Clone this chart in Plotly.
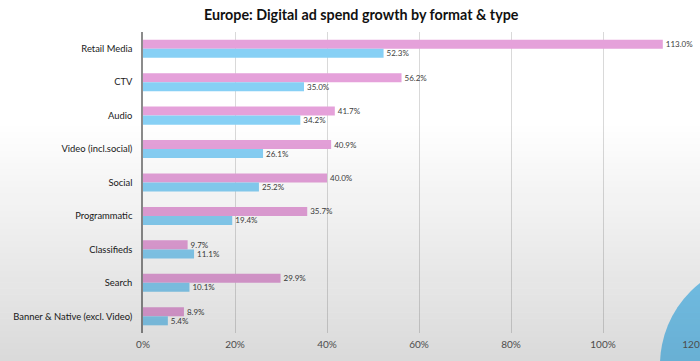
import plotly.graph_objects as go

categories = ["Retail Media", "CTV", "Audio", "Video (incl.social)", "Social",
              "Programmatic", "Classifieds", "Search", "Banner & Native (excl. Video)"]
series_pink = [113.0, 56.2, 41.7, 40.9, 40.0, 35.7, 9.7, 29.9, 8.9]
series_blue = [52.3, 35.0, 34.2, 26.1, 25.2, 19.4, 11.1, 10.1, 5.4]
x_ticks = [0, 20, 40, 60, 80, 100, 120]
x_tick_labels = ["0%", "20%", "40%", "60%", "80%", "100%", "120%"]

W, H = 700, 361
ML, MR, MT, MB = 143, 5, 32, 28
PW, PH = W - ML - MR, H - MT - MB

def px_x(p):
    return (p - ML) / PW

def px_y(p):
    return (H - MB - p) / PH

label_font = dict(family="Lato, 'Open Sans', sans-serif", size=8, color="#404040")

fig = go.Figure()
fig.add_trace(go.Bar(
    y=categories, x=series_pink, orientation="h", name="Series 1",
    marker=dict(color="#E5A1DA", line=dict(width=0)),
    texttemplate="%{x:.1f}%", textposition="outside", textfont=label_font,
    constraintext="none", cliponaxis=False,
))
fig.add_trace(go.Bar(
    y=categories, x=series_blue, orientation="h", name="Series 2",
    marker=dict(color="#87D0F5", line=dict(width=0)),
    texttemplate="%{x:.1f}%", textposition="outside", textfont=label_font,
    constraintext="none", cliponaxis=False,
))

shapes = []
# decorative blue circle bottom-right (below gridlines and tick labels)
cx, cy, r = 764, 365, 104
shapes.append(dict(
    type="circle", xref="paper", yref="paper",
    x0=px_x(cx - r), x1=px_x(cx + r), y0=px_y(cy + r), y1=px_y(cy - r),
    fillcolor="#7BCEF8", line=dict(width=0), layer="below",
))
# soft vertical background shading (darker toward bottom)
y_start, y_end = 120, H
n = 40
step = (y_end - y_start) / n
for i in range(n):
    a = 0.145 * (i + 0.5) / n
    shapes.append(dict(
        type="rect", xref="paper", yref="paper",
        x0=px_x(-2), x1=px_x(W + 2),
        y0=px_y(y_start + (i + 1) * step), y1=px_y(y_start + i * step),
        fillcolor=f"rgba(0,0,0,{a:.4f})", line=dict(width=0), layer="above",
    ))

fig.update_layout(
    width=W, height=H,
    margin=dict(l=ML, r=MR, t=MT, b=MB, autoexpand=False),
    paper_bgcolor="white", plot_bgcolor="rgba(0,0,0,0)",
    barmode="group", bargap=0.46, bargroupgap=0,
    showlegend=False,
    title=dict(text="<b>Europe: Digital ad spend growth by format & type</b>",
               x=0.516, xanchor="center", y=0.958, yanchor="middle",
               font=dict(family="Lato, 'Open Sans', sans-serif", size=14.3, color="#111111")),
    xaxis=dict(range=[0, 120], tickvals=x_ticks, ticktext=x_tick_labels,
               showgrid=True, gridcolor="#D9D9D9", gridwidth=1,
               zeroline=False, showline=False, ticks="", automargin=False,
               ticklabeloverflow="allow",
               tickfont=dict(family="Lato, 'Open Sans', sans-serif", size=10, color="#595959"),
               ticklabelstandoff=4, fixedrange=True),
    yaxis=dict(autorange="reversed", showgrid=False, zeroline=False, automargin=False,
               showline=True, linecolor="#8C8C8C", linewidth=1.5, ticks="",
               tickfont=dict(family="Lato, 'Open Sans', sans-serif", size=9.4, color="#1A1A1A"),
               ticklabelstandoff=7),
    shapes=shapes,
)

fig.write_html("out.html", config={"displayModeBar": False},
               post_script="document.body.style.margin='0px';document.body.style.overflow='hidden';")
